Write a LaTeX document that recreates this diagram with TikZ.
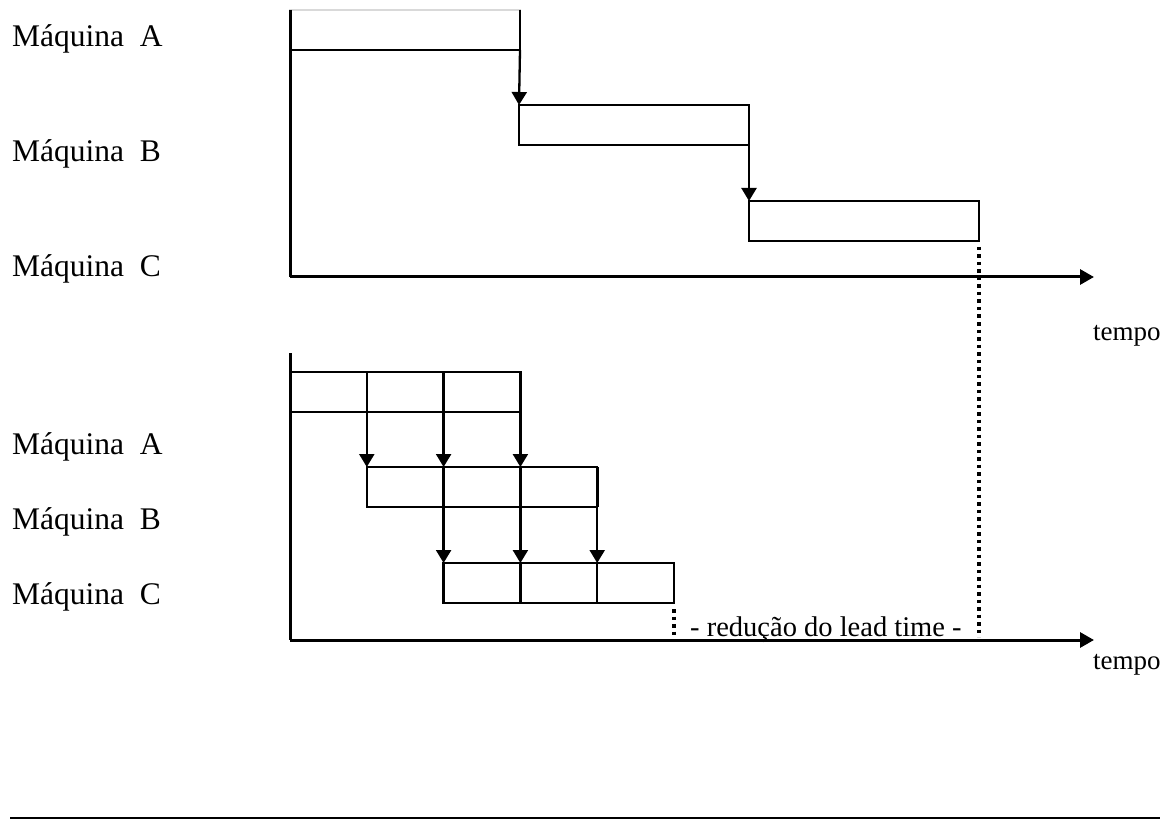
\documentclass[tikz,border=0pt]{standalone}
\usepackage{fontspec}
\setmainfont{Liberation Serif}
\usetikzlibrary{arrows.meta}
\begin{document}
\begin{tikzpicture}[x=1pt,y=-1pt,
  bar/.style={draw=black,line width=2.3pt,minimum height=40pt,inner sep=0pt,outer sep=0pt,anchor=north west},
  seg/.style={bar,minimum width=76.8pt},
  longbar/.style={bar,minimum width=230pt},
  flow/.style={line width=2.3pt,-{Triangle[width=15pt,length=13pt]}},
  axis/.style={line width=3pt,-{Triangle[width=15pt,length=14pt]}},
  guide/.style={line width=3.2pt,dash pattern=on 3.5pt off 4pt},
  lbl/.style={font=\fontsize{31.5}{32}\selectfont,anchor=base west,inner sep=0pt},
  small/.style={font=\fontsize{28.5}{29}\selectfont,anchor=base west,inner sep=0pt},
  tlbl/.style={font=\fontsize{27}{28}\selectfont,anchor=base west,inner sep=0pt}]
\useasboundingbox (0,0) rectangle (1160,821);

% ---------- sequential flow ----------
\node[longbar,draw=black!15] (ua) at (290,10) {};
\draw[line width=2.3pt] (ua.north east) -- (ua.south east) -- (ua.south west);
\node[longbar] (ub) at (519,105) {};
\node[longbar] (uc) at (749,201) {};
\draw[flow] (ua.south east) -- (ub.north west);
\draw[flow] (ub.south east) -- (uc.north west);

\coordinate (uo) at (290,277);
\coordinate (utop) at (290,10);
\coordinate (uend) at (1094,277);
\draw[line width=3pt] (utop) -- (uo);
\draw[axis] (uo) -- (uend);

\node[lbl] (ula) at (12,47) {Máquina\ \ A};
\node[lbl] (ulb) at (12,162) {Máquina\ \ B};
\node[lbl] (ulc) at (12,277) {Máquina\ \ C};
\node[tlbl] (ut) at (1093,341) {tempo};

% ---------- overlapped flow (transfer batches) ----------
\node[seg] (a1) at (290,372) {};
\node[seg] (a2) at (a1.north east) {};
\node[seg] (a3) at (a2.north east) {};
\node[seg] (b1) at (a1.north east |- 0,467) {};
\node[seg] (b2) at (b1.north east) {};
\node[seg] (b3) at (b2.north east) {};
\node[seg] (c1) at (b1.north east |- 0,563) {};
\node[seg] (c2) at (c1.north east) {};
\node[seg] (c3) at (c2.north east) {};
\draw[line width=3.4pt] (a3.north east) -- (a3.south east);
\draw[line width=3.4pt] (b3.north east) -- (b3.south east);

\draw[flow] (a1.north east) -- (b1.north west);
\draw[flow] (a2.north east) -- (b2.north west);
\draw[flow] (a3.north east) -- (b3.north west);
\draw[flow] (b1.north east) -- (c1.north west);
\draw[flow] (b2.north east) -- (c2.north west);
\draw[flow] (b3.north east) -- (c3.north west);

\coordinate (lo) at (290,640);
\coordinate (ltop) at (290,353);
\coordinate (lend) at (1094,640);
\draw[line width=3pt] (ltop) -- (lo);
\draw[axis] (lo) -- (lend);

\node[lbl] (lla) at (12,454) {Máquina\ \ A};
\node[lbl] (llb) at (12,529) {Máquina\ \ B};
\node[lbl] (llc) at (12,604) {Máquina\ \ C};
\node[tlbl] (lt) at (1093,669) {tempo};

% ---------- lead time reduction ----------
\coordinate (ld1) at (c3.south east |- 0,637);
\coordinate (ld2) at (uc.south east |- 0,637);
\draw[guide] (c3.south east) ++(0,6) -- (ld1);
\draw[guide] (uc.south east) ++(0,6) -- (ld2);
\node[small] (lead) at (690,636) {- redução do lead time -};

% page rule
\coordinate (r1) at (10,818);
\coordinate (r2) at (1160,818);
\draw[line width=2.4pt] (r1) -- (r2);
\end{tikzpicture}
\end{document}
